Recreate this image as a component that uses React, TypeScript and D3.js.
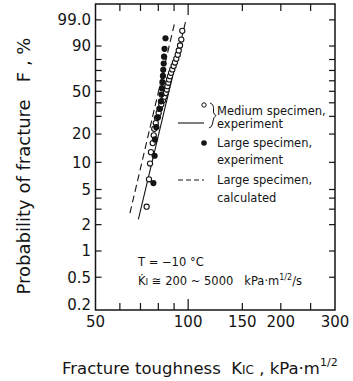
import React, { useEffect, useRef } from 'react';
import * as d3 from 'd3';

// Medium specimen, experiment (open circles): fracture toughness vs probability (%)
const mediumK = [73.3, 74.6, 75.2, 75.7, 76.7, 77.3, 77.6, 78.5, 79.2, 80.2, 81.0, 81.8, 82.8, 83.7, 84.5,
  85.2, 85.6, 86.2, 86.7, 87.3, 88.0, 88.8, 89.7, 90.6, 91.5, 92.5, 93.2, 94.1, 95.0, 95.7];
const mediumF = [3.2, 6.5, 9.7, 12.9, 16.1, 19.4, 22.6, 25.8, 29.0, 32.3, 35.5, 38.7, 41.9, 45.2, 48.4,
  51.6, 54.8, 58.1, 61.3, 64.5, 67.7, 71.0, 74.2, 77.4, 80.6, 83.9, 87.1, 90.3, 93.5, 96.8];

// Large specimen, experiment (filled circles)
const largeK = [77.1, 77.8, 78.0, 78.8, 79.8, 80.6, 81.6, 81.9, 82.2, 82.5, 82.8, 83.0, 83.3, 83.5, 83.8, 84.4];
const largeF = [5.9, 11.8, 17.6, 23.5, 29.4, 35.3, 41.2, 47.1, 52.9, 58.8, 64.7, 70.6, 76.5, 82.4, 88.2, 94.1];

// fitted line (medium) and calculated line (large)
const mediumFitK = [68.9, 98.0];
const mediumFitF = [2.3, 98.7];
const largeCalcK = [64.7, 90.6];
const largeCalcF = [2.7, 98.8];

const xTickValues = [50, 100, 150, 200, 300];
const xMinorTicks = [60, 70, 80, 90, 100, 150, 200, 250];
const yTickValues = [99, 90, 50, 20, 10, 5, 2, 1, 0.5, 0.2];
const yTickLabels = ['99.0', '90', '50', '20', '10', '5', '2', '1', '0.5', '0.2'];
const yMinorTicks = [99, 90, 80, 70, 60, 50, 40, 30, 20, 10, 5, 4, 3, 2, 1, 0.5];

const plot = { left: 95.5, right: 335, top: 4, bottom: 310 };

const weibull = (p: number) => Math.log(-Math.log(1 - p / 100));

const App = () => {
  const svgRef = useRef<SVGSVGElement>(null);

  useEffect(() => {
    const svg = d3.select(svgRef.current);
    svg.selectAll('*').remove();

    const font = '"DejaVu Sans", sans-serif';
    const ink = '#141414';

    const x = d3.scaleLog().domain([50, 300]).range([plot.left, plot.right]);
    const yW = d3.scaleLinear()
      .domain([weibull(0.21), weibull(99.91)])
      .range([plot.bottom, plot.top])
      .clamp(true);
    const y = (p: number) => yW(weibull(p));

    const g = svg.append('g').attr('font-family', font).attr('fill', ink);

    // frame
    g.append('rect')
      .attr('x', plot.left).attr('y', plot.top)
      .attr('width', plot.right - plot.left)
      .attr('height', plot.bottom - plot.top)
      .attr('fill', 'none')
      .attr('stroke', ink)
      .attr('stroke-width', 1.5);

    // x ticks, bottom and top, pointing inward
    xMinorTicks.forEach(v => {
      const len = v === 100 ? 11 : 7;
      g.append('line')
        .attr('x1', x(v)).attr('x2', x(v))
        .attr('y1', plot.bottom).attr('y2', plot.bottom - len)
        .attr('stroke', ink).attr('stroke-width', 1.2);
      g.append('line')
        .attr('x1', x(v)).attr('x2', x(v))
        .attr('y1', plot.top).attr('y2', plot.top + len)
        .attr('stroke', ink).attr('stroke-width', 1.2);
    });

    // y ticks, left and right
    yMinorTicks.forEach(v => {
      g.append('line')
        .attr('x1', plot.left).attr('x2', plot.left + 6)
        .attr('y1', y(v)).attr('y2', y(v))
        .attr('stroke', ink).attr('stroke-width', 1.2);
      g.append('line')
        .attr('x1', plot.right).attr('x2', plot.right - 6)
        .attr('y1', y(v)).attr('y2', y(v))
        .attr('stroke', ink).attr('stroke-width', 1.2);
    });

    // tick labels
    g.selectAll('.xlab')
      .data(xTickValues)
      .enter()
      .append('text')
      .attr('x', d => x(d))
      .attr('y', 327)
      .attr('text-anchor', 'middle')
      .attr('font-size', 15)
      .text(d => d);

    g.selectAll('.ylab')
      .data(yTickValues)
      .enter()
      .append('text')
      .attr('x', 91)
      .attr('y', d => Math.min(y(d), 305))
      .attr('dy', '0.36em')
      .attr('text-anchor', 'end')
      .attr('font-size', 15)
      .text((d, i) => yTickLabels[i]);

    // lines
    const line = d3.line<number>()
      .x(d => x(d[0]))
      .y(d => y(d[1]));

    g.append('path')
      .datum(mediumFitK.map((k, i) => [k, mediumFitF[i]]))
      .attr('d', line as any)
      .attr('fill', 'none')
      .attr('stroke', ink)
      .attr('stroke-width', 1.1);

    g.append('path')
      .datum(largeCalcK.map((k, i) => [k, largeCalcF[i]]))
      .attr('d', line as any)
      .attr('fill', 'none')
      .attr('stroke', ink)
      .attr('stroke-width', 1.1)
      .attr('stroke-dasharray', '7,4');

    // points
    g.selectAll('.medium')
      .data(mediumK)
      .enter()
      .append('circle')
      .attr('cx', d => x(d))
      .attr('cy', (d, i) => y(mediumF[i]))
      .attr('r', 2.6)
      .attr('fill', '#fff')
      .attr('stroke', ink)
      .attr('stroke-width', 1.1);

    g.selectAll('.large')
      .data(largeK)
      .enter()
      .append('circle')
      .attr('cx', d => x(d))
      .attr('cy', (d, i) => y(largeF[i]))
      .attr('r', 3.1)
      .attr('fill', ink);

    // legend
    const legend = g.append('g').attr('font-size', 11.5);
    legend.append('circle').attr('cx', 204).attr('cy', 105).attr('r', 2.2)
      .attr('fill', '#fff').attr('stroke', ink).attr('stroke-width', 1);
    legend.append('line').attr('x1', 178).attr('x2', 204).attr('y1', 123).attr('y2', 123)
      .attr('stroke', ink).attr('stroke-width', 1.1);
    legend.append('path')
      .attr('d', 'M210,103 Q214,104 213.5,110 L213.5,112 Q214,115 216,115.5 Q213.5,117 213,121 L212.5,124 Q211.5,127.5 209,128')
      .attr('fill', 'none').attr('stroke', ink).attr('stroke-width', 1);
    legend.append('text').attr('x', 217).attr('y', 115).text('Medium specimen,');
    legend.append('text').attr('x', 217).attr('y', 128).text('experiment');

    legend.append('circle').attr('cx', 204).attr('cy', 143).attr('r', 2.8).attr('fill', ink);
    legend.append('text').attr('x', 217).attr('y', 147).text('Large specimen,');
    legend.append('text').attr('x', 217).attr('y', 164).text('experiment');

    legend.append('line').attr('x1', 178).attr('x2', 204).attr('y1', 180).attr('y2', 180)
      .attr('stroke', ink).attr('stroke-width', 1.1).attr('stroke-dasharray', '5,3');
    legend.append('text').attr('x', 217).attr('y', 184).text('Large specimen,');
    legend.append('text').attr('x', 217).attr('y', 202).text('calculated');

    // annotation
    const note = g.append('g').attr('font-size', 11.5);
    note.append('text').attr('x', 138).attr('y', 266).style('white-space', 'pre').text('T = \u221210 \u00b0C');
    const k = note.append('text').attr('x', 138).attr('y', 285).style('white-space', 'pre');
    k.append('tspan').text('K\u0307');
    k.append('tspan').attr('font-size', 9).text('I');
    k.append('tspan').text(' \u2245 200 ~ 5000   kPa\u00b7m');
    k.append('tspan').attr('font-size', 8).attr('dy', -5).text('1/2');
    k.append('tspan').attr('dy', 5).text('/s');

    // axis titles
    const xt = g.append('text').attr('x', 62).attr('y', 374).attr('font-size', 16.5).style('white-space', 'pre');
    xt.append('tspan').text('Fracture toughness  K');
    xt.append('tspan').attr('font-size', 12).text('IC');
    xt.append('tspan').text(' , kPa\u00b7m');
    xt.append('tspan').attr('font-size', 11).attr('dy', -8).text('1/2');

    g.append('text')
      .attr('transform', 'translate(30, 166) rotate(-90)')
      .attr('text-anchor', 'middle')
      .attr('font-size', 18)
      .style('white-space', 'pre')
      .text('Probability of fracture   F , %');
  }, []);

  return (
    <div style={{ width: 353, height: 381, background: '#fff' }}>
      <style>{'body{margin:0;background:#fff}'}</style>
      <svg ref={svgRef} width={353} height={381} style={{ display: 'block' }}></svg>
    </div>
  );
};

export default App;
